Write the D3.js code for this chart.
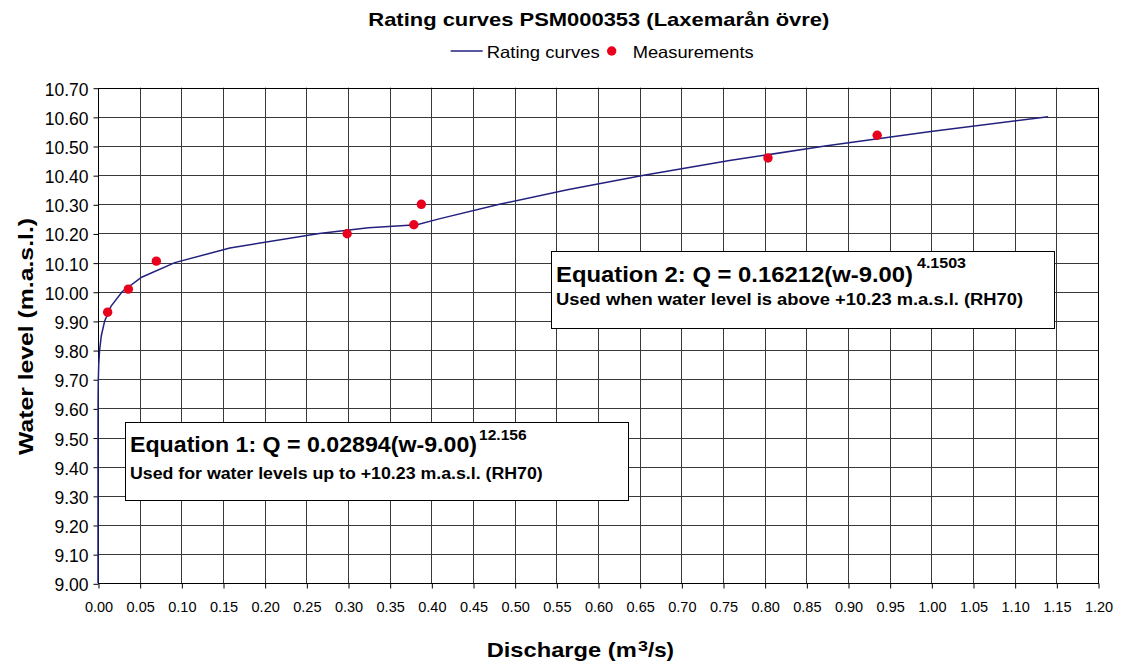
<!DOCTYPE html>
<html><head><meta charset="utf-8">
<script src="https://cdn.jsdelivr.net/npm/d3@7"></script>
<style>body{margin:0;background:#fff}svg{display:block;font-family:"Liberation Sans",Arial,sans-serif}</style>
</head><body>
<svg id="c" width="1121" height="668"></svg>
<script>
// Data
const curveLevels = [9.00,9.05,9.10,9.15,9.20,9.25,9.30,9.35,9.40,9.45,9.50,9.55,9.60,9.65,9.70,9.75,9.80,9.85,9.90,9.95,10.00,10.05,10.10,10.15,10.20,10.22,10.23,10.25,10.30,10.35,10.40,10.45,10.50,10.55,10.60];
const curveDischarge = [0,0,0,0,0,0,0,0,0.000001,0.000003,0.000006,0.00002,0.000058,0.000154,0.000379,0.000877,0.00192,0.00401,0.00804,0.01551,0.02894,0.05237,0.0922,0.1582,0.2655,0.3245,0.3828,0.4093,0.4817,0.5633,0.6551,0.7578,0.8724,0.9994,1.1402];
const measDischarge = [0.0116,0.0364,0.070,0.299,0.379,0.388,0.804,0.935];
const measLevels = [9.930,10.009,10.105,10.199,10.230,10.300,10.459,10.537];
const xTicks = d3.range(0,25).map(i=>i*0.05);
const yTicks = d3.range(0,18).map(i=>9+i*0.1);
const title = "Rating curves PSM000353 (Laxemarån övre)";
const legendLabels = ["Rating curves","Measurements"];

const svg = d3.select("#c");
const L=98, R=1098, T=87.7, B=583.3;
const x = d3.scaleLinear().domain([0,1.2]).range([L,R]);
const y = d3.scaleLinear().domain([9,10.7]).range([B,T]);

function txt(px,py,str,size,width,bold,anchor){
  const t = svg.append("text").attr("x",px).attr("y",py).attr("font-size",size+"px")
    .attr("font-weight",bold?"bold":"normal").attr("fill","#000").text(str);
  if(anchor) t.attr("text-anchor",anchor);
  if(width) t.attr("textLength",width).attr("lengthAdjust","spacingAndGlyphs");
  return t;
}

// grid
const g = svg.append("g");
g.selectAll(".vg").data(xTicks.slice(1)).join("line")
  .attr("x1",d=>Math.round(x(d))+0.5).attr("x2",d=>Math.round(x(d))+0.5)
  .attr("y1",T).attr("y2",B).attr("stroke","#3a3a3a").attr("stroke-width",1);
g.selectAll(".hg").data(yTicks.slice(1)).join("line")
  .attr("y1",d=>Math.round(y(d))+0.5).attr("y2",d=>Math.round(y(d))+0.5)
  .attr("x1",L).attr("x2",R).attr("stroke","#3a3a3a").attr("stroke-width",1);
svg.append("rect").attr("x",L+0.5).attr("y",Math.round(T)+0.5).attr("width",R-L).attr("height",Math.round(B)-Math.round(T))
  .attr("fill","none").attr("stroke","#000").attr("stroke-width",1);

// axes
const xa = svg.append("g").attr("transform",`translate(0.5,${Math.round(B)+0.5})`)
  .call(d3.axisBottom(x).tickValues(xTicks).tickFormat(d3.format(".2f")).tickSize(5).tickPadding(13));
xa.select(".domain").remove();
xa.selectAll("text").attr("font-size","14.5px").attr("font-family","Liberation Sans, Arial").attr("fill","#000");
const ya = svg.append("g").attr("transform",`translate(${L+0.5},0.5)`)
  .call(d3.axisLeft(y).tickValues(yTicks).tickFormat(d3.format(".2f")).tickSize(5).tickPadding(5));
ya.select(".domain").remove();
ya.selectAll("text").attr("font-size","17.5px").attr("font-family","Liberation Sans, Arial").attr("fill","#000").attr("dy","0.4em");

// curve
const pts = curveLevels.map((w,i)=>[curveDischarge[i],w]);
svg.append("path").datum(pts)
  .attr("d",d3.line().x(d=>x(d[0])).y(d=>y(d[1])))
  .attr("fill","none").attr("stroke","#23217e").attr("stroke-width",1.5);

// measurements
svg.selectAll(".m").data(measDischarge).join("circle")
  .attr("cx",d=>x(d)).attr("cy",(d,i)=>y(measLevels[i])).attr("r",4.7).attr("fill","#e8001c");

// equation boxes
function box(bx,by,bw,bh){
  svg.append("rect").attr("x",bx+0.5).attr("y",by+0.5).attr("width",bw).attr("height",bh)
    .attr("fill","#fff").attr("stroke","#000").attr("stroke-width",1);
}
box(551,251,503,77);
txt(556,281.7,"Equation 2: Q = 0.16212(w-9.00)",22,357,true);
txt(917,268.3,"4.1503",14,49,true);
txt(556,305,"Used when water level is above +10.23 m.a.s.l. (RH70)",16,467,true);
box(125,422,503,78);
txt(130,452.3,"Equation 1: Q = 0.02894(w-9.00)",22,347,true);
txt(479,440,"12.156",14,47.7,true);
txt(130,479,"Used for water levels up to +10.23 m.a.s.l. (RH70)",16,412.7,true);

// title
txt(368.3,25.5,title,19,461,true);
// legend
svg.append("line").attr("x1",450.7).attr("x2",482.7).attr("y1",51).attr("y2",51).attr("stroke","#23217e").attr("stroke-width",1.5);
txt(486.7,57.7,legendLabels[0],16.5,113,false);
svg.append("circle").attr("cx",611.7).attr("cy",51).attr("r",4.7).attr("fill","#e8001c");
txt(632.7,57.7,legendLabels[1],16.5,121,false);

// axis titles
svg.append("text").attr("transform","translate(33,336.5) rotate(-90)").attr("text-anchor","middle")
  .attr("font-weight","bold").attr("font-size","19.5px").attr("textLength",237).attr("lengthAdjust","spacingAndGlyphs")
  .text("Water level (m.a.s.l.)");
txt(486.7,657.3,"Discharge (m",21,150,true);
txt(638,650.7,"3",14,10,true);
txt(648,657.3,"/s)",21,26,true);
</script>
</body></html>
